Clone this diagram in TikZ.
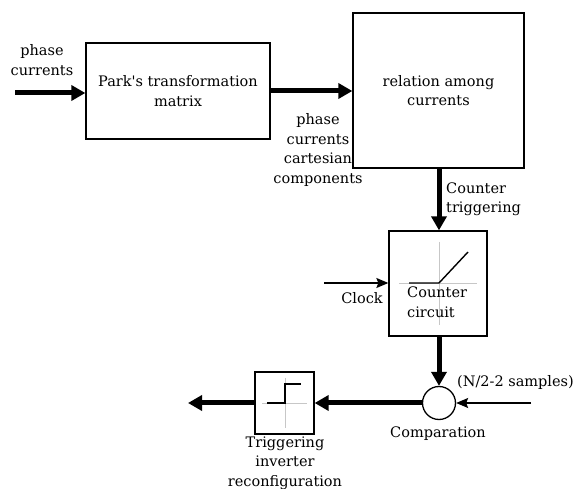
\documentclass[tikz,border=0pt]{standalone}
\usepackage{fontspec}
\setmainfont{DejaVu Serif}
\usetikzlibrary{arrows.meta}
\begin{document}
\begin{tikzpicture}[x=1pt,y=-1pt,
  blk/.style={draw,line width=1.3pt,inner sep=0pt},
  lbl/.style={font=\fontsize{14.5}{19.5}\selectfont,align=center,inner sep=0pt},
  thick arrow/.style={line width=5pt,-{Triangle[length=14pt,width=15pt]}},
  thin arrow/.style={line width=1.2pt,-{Stealth[length=12pt,width=10pt,inset=2pt]}},
  axis/.style={draw=black!22,line width=0.8pt},
  curve/.style={draw,line width=1.4pt}]
\useasboundingbox (0,0) rectangle (574,489);
% blocks
\node[blk,minimum width=184pt,minimum height=96pt] (park) at (178,91) {};
\node[lbl] at (park.center) {Park\textquotesingle s transformation\\matrix};
\node[blk,minimum width=171pt,minimum height=155pt] (rel) at (438.5,90.5) {};
\node[lbl] at (rel.center) {relation among\\currents};
\node[blk,minimum width=98pt,minimum height=105pt] (cnt) at (438,283.5) {};
\node[blk,circle,minimum size=33pt] (cmp) at (439,403) {};
\node[blk,minimum width=59pt,minimum height=62pt] (trg) at (284.5,403) {};
% counter inner graph
\draw[axis] (399,283) -- (477,283);
\draw[axis] (439,242) -- (439,325);
\draw[curve] (409,283) -- (439,283) -- (468,252);
\node[lbl,align=left,anchor=north west] at (407,287) {Counter\\circuit};
% trigger inner graph
\draw[axis] (262,403) -- (307,403);
\draw[axis] (285,378) -- (285,428);
\draw[curve] (267,403) -- (285,403) -- (285,384) -- (301,384);
% coordinates
\coordinate (in) at (15,93);
\coordinate (clk) at (324,283);
\coordinate (ns) at (531,403);
\coordinate (out) at (188,403);
% connectors
\draw[thick arrow] (in) -- (park.west |- in);
\draw[thick arrow] (park.east |- 0,91) -- (rel.west |- 0,91);
\draw[thick arrow] (rel.south -| 439,0) -- (cnt.north -| 439,0);
\draw[thick arrow] (cnt.south -| 439,0) -- (cmp.north);
\draw[thick arrow] (cmp.west) -- (trg.east);
\draw[thick arrow] (trg.west) -- (out);
\draw[thin arrow] (clk) -- (cnt.west |- clk);
\draw[thin arrow] (ns) -- (cmp.east);
% labels
\node[lbl] (l1) at (42,60) {phase\\currents};
\node[lbl] (l2) at (318,150) {phase\\currents\\cartesian\\components};
\node[lbl,align=left,anchor=west] (l3) at (446,199) {Counter\\triggering};
\node[lbl] (l4) at (362,298) {Clock};
\node[lbl,anchor=west] (l5) at (457,383) {(N/2-2 samples)};
\node[lbl] (l6) at (438,434) {Comparation};
\node[lbl] (l7) at (285,463) {Triggering\\inverter\\reconfiguration};
\end{tikzpicture}
\end{document}
